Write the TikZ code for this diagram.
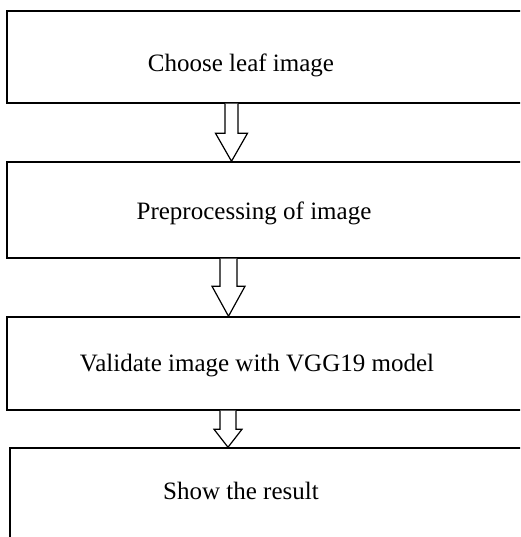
\documentclass[tikz,border=0pt]{standalone}
\usepackage{fontspec}
\setmainfont{Liberation Serif}
\usepackage{tikz}
\usetikzlibrary{calc,positioning}

% hollow block arrow between two boxes: from, to, x of axis, shaft half, head half, head length
\newcommand{\flowarrow}[6]{%
  \path (#1.south -| #3) coordinate (fs) (#2.north -| #3) coordinate (fe);
  \draw[hollow arrow] ($(fs)+(-#4,0)$) -- ($(fe)+(-#4,#6)$) -- ($(fe)+(-#5,#6)$)
    -- (fe) -- ($(fe)+(#5,#6)$) -- ($(fe)+(#4,#6)$) -- ($(fs)+(#4,0)$);
}

\begin{document}
\begin{tikzpicture}[x=1pt,y=1pt,
      box node/.style={rectangle,draw,line width=1.5pt,minimum width=528pt,inner sep=0pt},
      label node/.style={anchor=base,inner sep=0pt,font=\fontsize{25}{30}\selectfont},
      hollow arrow/.style={draw,fill=white,line width=1.2pt,line join=miter}]
      \clip (0,0) rectangle (520,537);
      \fill[white] (0,0) rectangle (520,537);

      \node[box node,minimum height=92pt] (choose) at (271,480) {};
      \node[box node,minimum height=96pt] (prep) at (271,327) {};
      \node[box node,minimum height=93pt] (valid) at (271,173.5) {};
      \node[box node,minimum height=112pt] (result) at (274,33) {};

      \node[label node] (tchoose) at (241,465) {Choose leaf image};
      \node[label node] (tprep) at (254,317) {Preprocessing of image};
      \node[label node] (tvalid) at (257,165) {Validate image with VGG19 model};
      \node[label node] (tresult) at (241,37) {Show the result};

      \coordinate (ax1) at (231.5,0);
      \coordinate (ax2) at (228.5,0);
      \coordinate (ax3) at (228,0);
      \flowarrow{choose}{prep}{ax1}{6.5}{16}{28}
      \flowarrow{prep}{valid}{ax2}{8.5}{16.5}{30}
      \flowarrow{valid}{result}{ax3}{8}{14}{18}
    \end{tikzpicture}
\end{document}
